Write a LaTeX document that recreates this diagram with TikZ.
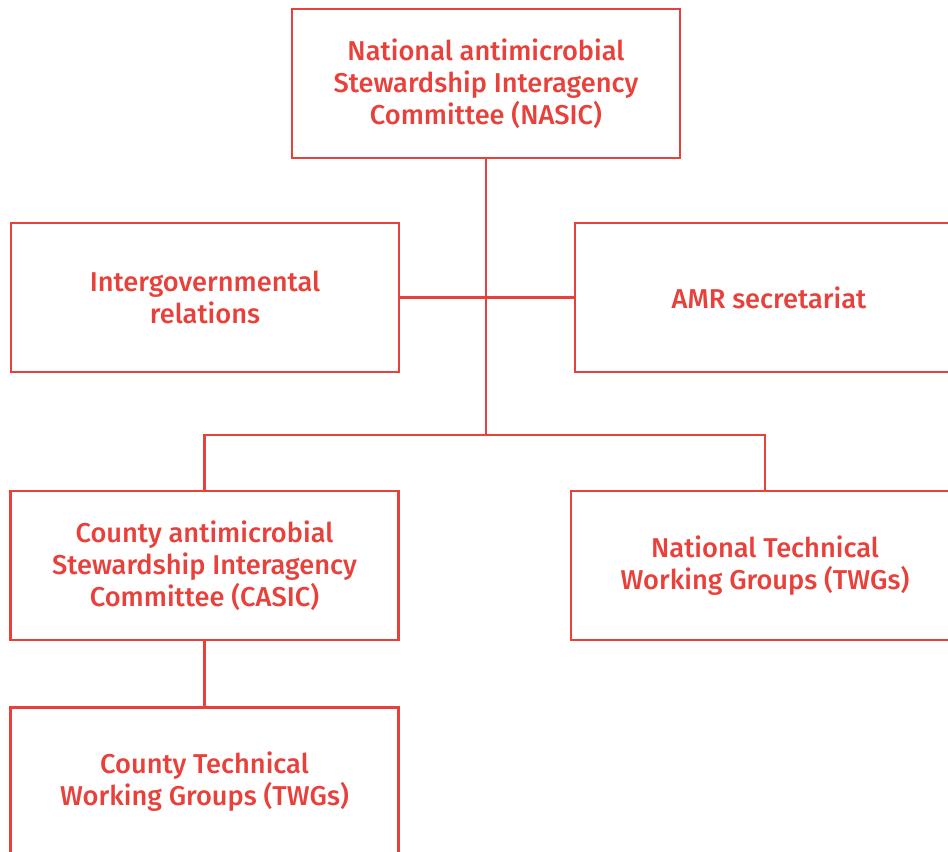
\documentclass[tikz,border=0pt]{standalone}
\usepackage{fontspec}
\setmainfont{Fira Sans}[UprightFont={* Medium}]
\definecolor{amrred}{HTML}{E8403A}
\tikzset{
  orgbox/.style={draw=amrred, line width=1.6pt, text=amrred, align=center,
    minimum width=7.76cm, minimum height=2.98cm, inner sep=0pt,
    font=\fontsize{15.5}{18.2}\selectfont},
  link/.style={draw=amrred, line width=1.6pt}
}
\begin{document}
\begin{tikzpicture}[x=0.02cm, y=-0.02cm]
\useasboundingbox (0,0) rectangle (948,852);
\clip (0,0) rectangle (948,852);
\node[orgbox] (nasic) at (486,83.5) {National antimicrobial\\Stewardship Interagency\\Committee (NASIC)};
\node[orgbox] (intergov) at (205,297.5) {Intergovernmental\\relations};
\node[orgbox] (amr) at (769,297.5) {AMR secretariat};
\node[orgbox] (casic) at (204.5,565.5) {County antimicrobial\\Stewardship Interagency\\Committee (CASIC)};
\node[orgbox] (ntwg) at (765,565.5) {National Technical\\Working Groups (TWGs)};
\node[orgbox] (ctwg) at (204.5,782) {County Technical\\Working Groups (TWGs)};
\coordinate (split) at (486,435);

\draw[link] (nasic.south) -- (split);
\draw[link] (intergov.east) -- (amr.west);
\draw[link] (casic.north) |- (split) -| (ntwg.north);
\draw[link] (casic.south) -- (ctwg.north);
\end{tikzpicture}
\end{document}
